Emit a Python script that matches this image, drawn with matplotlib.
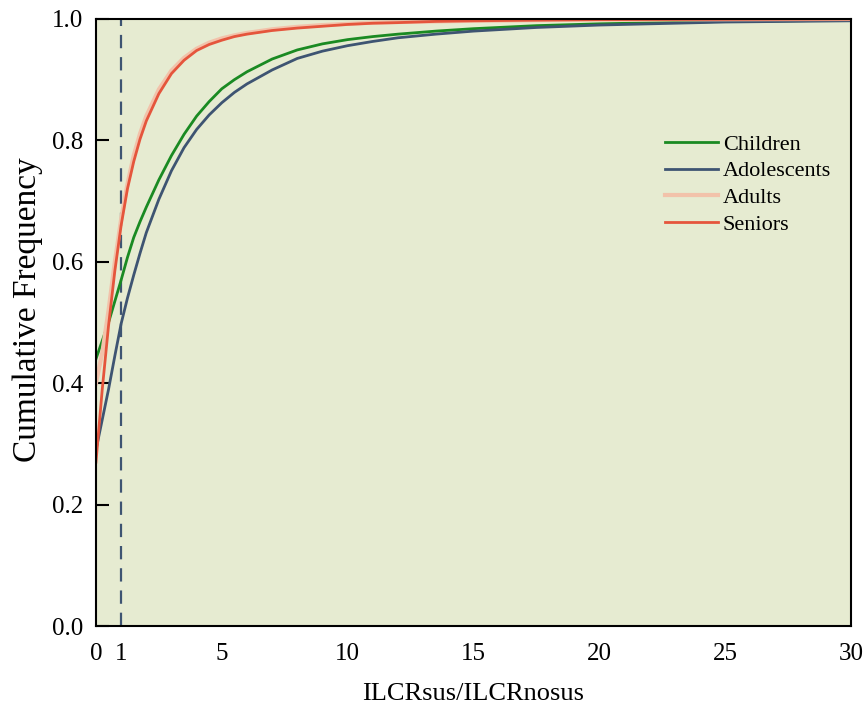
import matplotlib
matplotlib.use("Agg")
import matplotlib.pyplot as plt

plt.rcParams['font.family'] = ['Liberation Serif', 'DejaVu Serif']

# ratio values (x)
ratio = [0, 0.25, 0.5, 0.75, 1, 1.25, 1.5, 1.75, 2, 2.5, 3, 3.5, 4, 4.5, 5,
         5.5, 6, 7, 8, 9, 10, 11, 12, 13.5, 15, 17.5, 20, 25, 30]

children = [0.44, 0.47, 0.50, 0.535, 0.57, 0.607, 0.64, 0.666, 0.69, 0.735,
            0.775, 0.81, 0.84, 0.864, 0.885, 0.9, 0.913, 0.934, 0.949, 0.959,
            0.966, 0.971, 0.975, 0.98, 0.984, 0.989, 0.992, 0.996, 0.998]
adolescents = [0.29, 0.34, 0.39, 0.445, 0.498, 0.54, 0.578, 0.614, 0.648,
               0.703, 0.75, 0.788, 0.818, 0.842, 0.862, 0.879, 0.893, 0.916,
               0.935, 0.947, 0.956, 0.963, 0.969, 0.975, 0.98, 0.986, 0.99,
               0.995, 0.997]
adults = [0.40, 0.45, 0.52, 0.60, 0.67, 0.728, 0.775, 0.811, 0.84, 0.884,
          0.915, 0.936, 0.951, 0.961, 0.968, 0.973, 0.977, 0.983, 0.987,
          0.99, 0.992, 0.994, 0.995, 0.996, 0.997, 0.998, 0.999, 0.9995, 1.0]
seniors = [0.27, 0.39, 0.495, 0.585, 0.66, 0.72, 0.765, 0.802, 0.832, 0.877,
           0.91, 0.932, 0.948, 0.958, 0.965, 0.971, 0.975, 0.981, 0.985,
           0.988, 0.991, 0.993, 0.994, 0.996, 0.997, 0.998, 0.999, 0.9995,
           1.0]

series = [
    ("Children", children, "#1a8a22", 2.0),
    ("Adolescents", adolescents, "#3e5472", 2.0),
    ("Adults", adults, "#f2c2aa", 3.0),
    ("Seniors", seniors, "#e5553c", 2.0),
]

xticks = [0, 1, 5, 10, 15, 20, 25, 30]
yticks = [0.0, 0.2, 0.4, 0.6, 0.8, 1.0]

fig = plt.figure(figsize=(8.63, 7.08), dpi=100)
ax = fig.add_axes([0.1112, 0.1158, 0.8748, 0.8574])
ax.set_facecolor("#e6ebd1")

for name, vals, color, lw in series:
    ax.plot(ratio, vals, color=color, lw=lw, label=name)

# threshold at ratio = 1
ax.axvline(1, color="#3e5472", lw=1.6, ls=(0, (6, 4)), zorder=1)

ax.set_xlim(0, 30)
ax.set_ylim(0, 1.0)
ax.set_xticks(xticks)
ax.set_yticks(yticks)
ax.set_yticklabels([f"{v:.1f}" for v in yticks])
ax.tick_params(axis='x', length=0, pad=12, labelsize=18)
ax.tick_params(axis='y', direction='in', length=9, width=1.5, pad=9, labelsize=18)

for sp in ax.spines.values():
    sp.set_linewidth(1.5)
    sp.set_color("black")

ax.set_xlabel("ILCRsus/ILCRnosus", fontsize=19, labelpad=13)
ax.set_ylabel("Cumulative Frequency", fontsize=24)
ax.yaxis.set_label_coords(-0.07, 0.522)

ax.legend(loc="upper left", bbox_to_anchor=(0.742, 0.825), frameon=False,
          fontsize=16, handlelength=2.4, handletextpad=0.2, labelspacing=0.28,
          borderaxespad=0)

fig.savefig("out.png", dpi=100)
